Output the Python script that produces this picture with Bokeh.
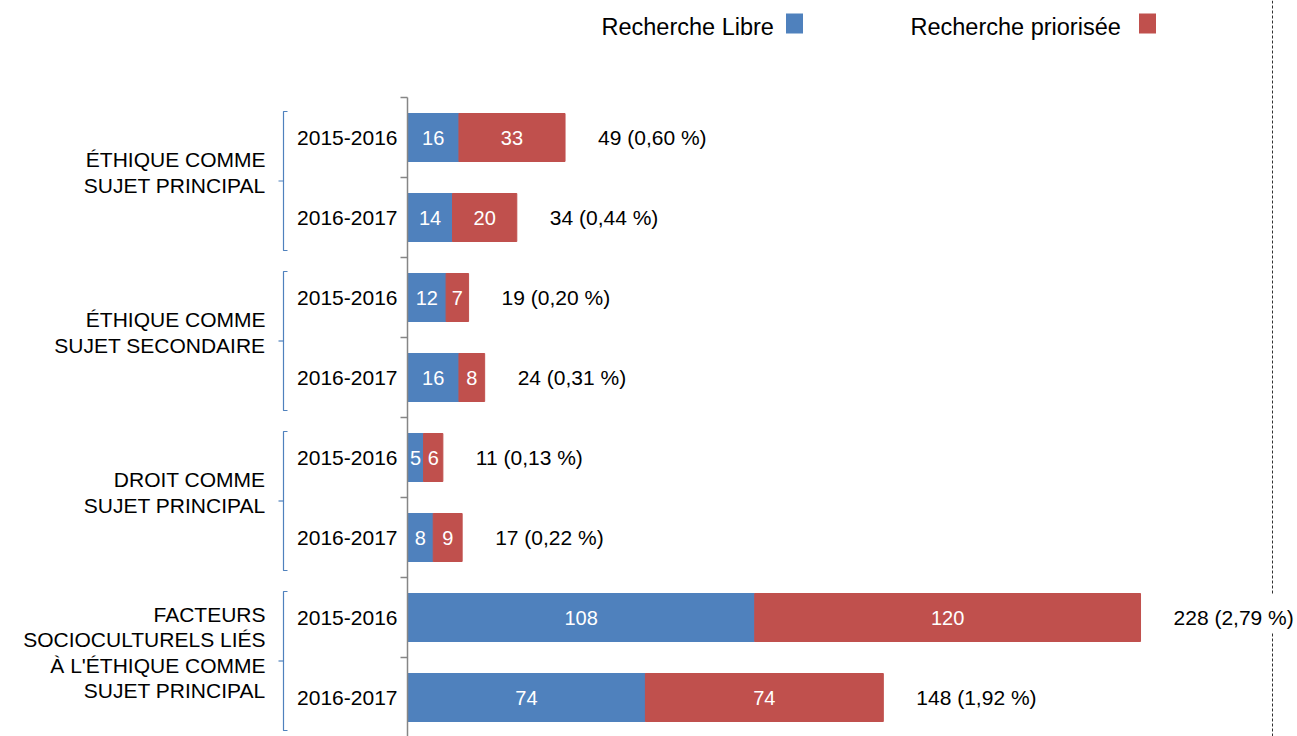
from bokeh.plotting import figure
from bokeh.models import ColumnDataSource, Range1d
from bokeh.core.properties import value
from bokeh.embed import file_html
from bokeh.resources import INLINE

# ---------------- data ----------------
groups = [
    "ÉTHIQUE COMME\nSUJET PRINCIPAL",
    "ÉTHIQUE COMME\nSUJET SECONDAIRE",
    "DROIT COMME\nSUJET PRINCIPAL",
    "FACTEURS\nSOCIOCULTURELS LIÉS\nÀ L'ÉTHIQUE COMME\nSUJET PRINCIPAL",
]
years = ["2015-2016", "2016-2017"]
libre = [16, 14, 12, 16, 5, 8, 108, 74]
priorisee = [33, 20, 7, 8, 6, 9, 120, 74]
pct = ["0,60", "0,44", "0,20", "0,31", "0,13", "0,22", "2,79", "1,92"]
series = ["Recherche Libre", "Recherche priorisée"]
colors = ["#4F81BD", "#C0504D"]

# ---------------- layout ----------------
W, H = 1297, 736
AXIS_PX = 407          # canvas px from left edge to the value axis
PX_PER_UNIT = 3.215    # horizontal scale
ROW_PX = 80            # px per category row
TOP_PX = 97            # canvas px from top to the first row boundary
FONT = value("Liberation Sans")

x_start = -AXIS_PX / PX_PER_UNIT
x_end = x_start + W / PX_PER_UNIT
y_top = -TOP_PX / ROW_PX
y_bottom = y_top + H / ROW_PX


def X(px):
    return (px - AXIS_PX) / PX_PER_UNIT


def Y(px):
    return (px - TOP_PX) / ROW_PX


n = len(libre)
rows = [i + 0.5 for i in range(n)]
totals = [a + b for a, b in zip(libre, priorisee)]
year_labels = [years[i % 2] for i in range(n)]

src = ColumnDataSource(dict(
    y=rows,
    libre=libre,
    prio=priorisee,
    total=totals,
    mid_l=[a / 2 for a in libre],
    mid_p=[a + b / 2 for a, b in zip(libre, priorisee)],
    lab_l=[str(a) for a in libre],
    lab_p=[str(b) for b in priorisee],
    tot_lab=[f"{t} ({p} %)" for t, p in zip(totals, pct)],
    year=year_labels,
    zero=[0] * n,
))

p = figure(width=W, height=H, output_backend="svg", toolbar_location=None,
           x_range=Range1d(x_start, x_end), y_range=Range1d(y_bottom, y_top),
           x_axis_location=None, y_axis_location=None, min_border=0)
p.grid.visible = False
p.outline_line_color = None
p.background_fill_color = "white"

# dashed separator on the right, interrupted behind the longest total label
imax = totals.index(max(totals))
sep_x = X(1272)
p.segment(x0=[sep_x, sep_x], x1=[sep_x, sep_x],
          y0=[y_top, imax + 0.7], y1=[imax + 0.2, y_bottom],
          line_color="#303030", line_dash="3 2", line_width=1)

# bars
p.hbar(y="y", left="zero", right="libre", height=0.6, color=colors[0], source=src)
p.hbar(y="y", left="libre", right="total", height=0.6, color=colors[1], source=src)

# in-bar labels
p.text(x="mid_l", y="y", text="lab_l", source=src, text_color="white", text_font=FONT,
       text_font_size="20px", text_align="center", text_baseline="middle")
p.text(x="mid_p", y="y", text="lab_p", source=src, text_color="white", text_font=FONT,
       text_font_size="20px", text_align="center", text_baseline="middle")

# totals
p.text(x="total", y="y", text="tot_lab", source=src, x_offset=33, text_color="black",
       text_font=FONT, text_font_size="21px", text_align="left", text_baseline="middle")

# value axis line and boundary ticks
bounds = list(range(n + 1))
p.segment(x0=[0], y0=[0], x1=[0], y1=[n], line_color="#868686", line_width=1.5)
p.segment(x0=[-7 / PX_PER_UNIT] * len(bounds), y0=bounds, x1=[0] * len(bounds), y1=bounds,
          line_color="#868686", line_width=1.5)

# year labels
p.text(x="zero", y="y", text="year", source=src, x_offset=-10, text_color="black",
       text_font=FONT, text_font_size="21px", text_align="right", text_baseline="middle")

# group labels
gy = [2 * g + 1 for g in range(len(groups))]
p.text(x=[0] * len(groups), y=gy, text=groups, x_offset=-142, y_offset=-5,
       text_color="black", text_font=FONT, text_font_size="21px", text_align="right",
       text_baseline="middle", text_line_height=1.1)

# brackets
bx = -124 / PX_PER_UNIT
b_end = -120 / PX_PER_UNIT
b_mid = -129 / PX_PER_UNIT
xs, ys = [], []
for g in range(len(groups)):
    top = 2 * g + 14 / ROW_PX
    bot = 2 * g + 2 - 7 / ROW_PX
    xs.append([b_end, bx, bx, b_end])
    ys.append([top, top, bot, bot])
    mid = (top + bot) / 2
    xs.append([bx, b_mid])
    ys.append([mid, mid])
p.multi_line(xs=xs, ys=ys, line_color="#4F81BD", line_width=1.2)

# legend (text followed by a coloured square)
p.text(x=[X(601), X(910)], y=[Y(26), Y(26)], text=series, text_color="black",
       text_font=FONT, text_font_size="23.5px", text_align="left", text_baseline="middle")
p.rect(x=[X(794), X(1147)], y=[Y(23), Y(23)], width=17, height=20,
       width_units="screen", height_units="screen", color=colors, line_color=None)

open("out.html", "w").write(file_html(p, INLINE))
